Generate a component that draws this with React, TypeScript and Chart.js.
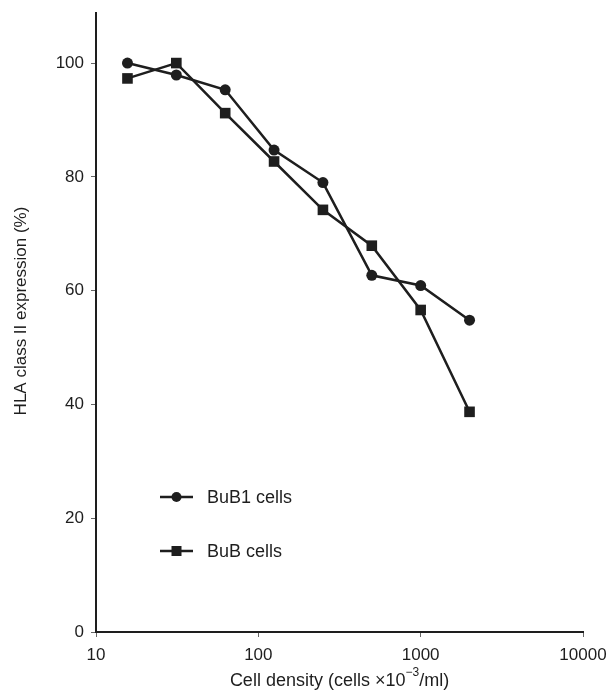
import React, { useEffect, useRef } from "react";
import { Chart, registerables } from "chart.js";

Chart.register(...registerables);

const density = [15.625, 31.25, 62.5, 125, 250, 500, 1000, 2000];
const bub1Cells = [100, 97.9, 95.3, 84.7, 79.0, 62.7, 60.9, 54.8];
const bubCells = [97.3, 100, 91.2, 82.7, 74.2, 67.9, 56.6, 38.7];
const seriesLabels = ["BuB1 cells", "BuB cells"];
const xTickValues = [10, 100, 1000, 10000];
const yTickValues = [0, 20, 40, 60, 80, 100];
const yTitle = "HLA class II expression (%)";

const INK = "#1e1e1e";
const FONT = "'Liberation Sans', Arial, Helvetica, sans-serif";

const legendPlugin = {
  id: "insideLegend",
  afterDatasetsDraw(chart: any) {
    const { ctx, chartArea } = chart;
    const rows = [484, 538];
    chart.data.datasets.forEach((ds: any, i: number) => {
      const y = chartArea.top + rows[i];
      const x0 = chartArea.left + 64;
      const x1 = chartArea.left + 97;
      const xm = (x0 + x1) / 2;
      ctx.save();
      ctx.strokeStyle = INK;
      ctx.fillStyle = INK;
      ctx.lineWidth = 2.5;
      ctx.beginPath();
      ctx.moveTo(x0, y);
      ctx.lineTo(x1, y);
      ctx.stroke();
      if (ds.pointStyle === "rect") {
        ctx.fillRect(xm - 5, y - 5, 10, 10);
      } else {
        ctx.beginPath();
        ctx.arc(xm, y, 5, 0, Math.PI * 2);
        ctx.fill();
      }
      ctx.font = `18px ${FONT}`;
      ctx.textBaseline = "middle";
      ctx.textAlign = "left";
      ctx.fillText(ds.label, chartArea.left + 111, y + 1);
      ctx.restore();
    });
  },
};

const titlesPlugin = {
  id: "axisTitles",
  afterDraw(chart: any) {
    const { ctx, chartArea } = chart;
    const cx = (chartArea.left + chartArea.right) / 2;
    const y = 681;
    const a = "Cell density (cells \u00d710";
    const sup = "\u22123";
    const b = "/ml)";
    ctx.save();
    ctx.fillStyle = INK;
    ctx.textBaseline = "middle";
    ctx.textAlign = "left";
    ctx.font = `18px ${FONT}`;
    const wa = ctx.measureText(a).width;
    const wb = ctx.measureText(b).width;
    ctx.font = `12px ${FONT}`;
    const ws = ctx.measureText(sup).width;
    const total = wa + ws + wb;
    let x = cx - total / 2;
    ctx.font = `18px ${FONT}`;
    ctx.fillText(a, x, y);
    x += wa;
    ctx.font = `12px ${FONT}`;
    ctx.fillText(sup, x, y - 8);
    x += ws;
    ctx.font = `18px ${FONT}`;
    ctx.fillText(b, x, y);
    ctx.restore();

    // y-axis title
    ctx.save();
    ctx.fillStyle = INK;
    ctx.font = `17px ${FONT}`;
    ctx.textAlign = "center";
    ctx.textBaseline = "middle";
    ctx.translate(21, chartArea.top + 298);
    ctx.rotate(-Math.PI / 2);
    ctx.fillText(yTitle, 0, 0);
    ctx.restore();
  },
};

const zeroPadding = (scale: any) => {
  scale.paddingLeft = 0;
  scale.paddingRight = 0;
  scale.paddingTop = 0;
  scale.paddingBottom = 0;
};

export default function App() {
  const ref = useRef<HTMLCanvasElement | null>(null);

  useEffect(() => {
    if (!ref.current) return;
    const chart = new Chart(ref.current, {
      type: "line",
      data: {
        datasets: [
          {
            label: seriesLabels[0],
            data: density.map((d, i) => ({ x: d, y: bub1Cells[i] })),
            borderColor: INK,
            backgroundColor: INK,
            borderWidth: 2.5,
            pointStyle: "circle",
            pointRadius: 5.5,
            pointBorderWidth: 0,
            tension: 0,
          },
          {
            label: seriesLabels[1],
            data: density.map((d, i) => ({ x: d, y: bubCells[i] })),
            borderColor: INK,
            backgroundColor: INK,
            borderWidth: 2.5,
            pointStyle: "rect",
            pointRadius: 7.5,
            pointBorderWidth: 0,
            tension: 0,
          },
        ],
      },
      options: {
        responsive: false,
        animation: false,
        layout: { padding: { top: 13, right: 24, left: 0, bottom: 0 } },
        plugins: {
          legend: { display: false },
          tooltip: { enabled: false },
        },
        scales: {
          x: {
            type: "logarithmic",
            min: 10,
            max: 10000,
            afterBuildTicks: (scale: any) => {
              scale.ticks = xTickValues.map((v) => ({ value: v }));
            },
            afterFit: (scale: any) => {
              scale.height = 61;
              zeroPadding(scale);
            },
            ticks: {
              color: INK,
              font: { family: FONT, size: 17 },
              padding: 8,
              maxRotation: 0,
              autoSkip: false,
              callback: (v: any) => String(v),
            },
            grid: {
              drawOnChartArea: false,
              drawTicks: true,
              tickLength: 5,
              color: "#666",
              lineWidth: 1,
            },
            border: { display: true, color: INK, width: 2 },
            title: { display: false },
          },
          y: {
            min: 0,
            max: 108.8,
            afterBuildTicks: (scale: any) => {
              scale.ticks = yTickValues.map((v) => ({ value: v }));
            },
            afterFit: (scale: any) => {
              scale.width = 96;
              zeroPadding(scale);
            },
            ticks: {
              color: INK,
              font: { family: FONT, size: 17 },
              padding: 7,
              callback: (v: any) => String(v),
            },
            grid: {
              drawOnChartArea: false,
              drawTicks: true,
              tickLength: 5,
              color: "#666",
              lineWidth: 1,
            },
            border: { display: true, color: INK, width: 2 },
            title: { display: false },
          },
        },
      },
      plugins: [legendPlugin, titlesPlugin],
    } as any);
    return () => chart.destroy();
  }, []);

  return (
    <div style={{ position: "fixed", left: 0, top: 0, width: 607, height: 693, background: "#fff" }}>
      <canvas ref={ref} width={607} height={693} style={{ width: 607, height: 693 }} />
    </div>
  );
}
